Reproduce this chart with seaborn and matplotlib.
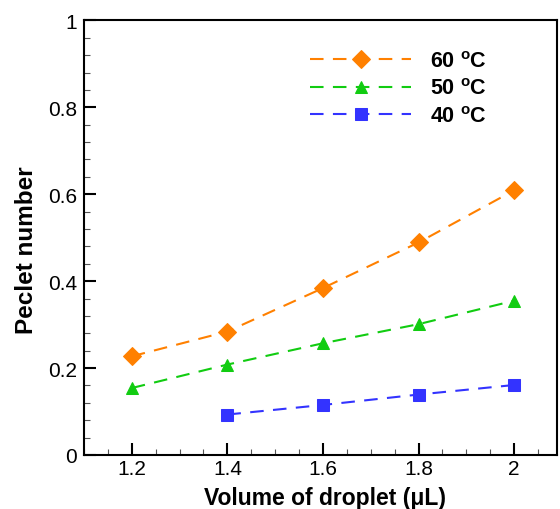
import pandas as pd
import seaborn as sns
import matplotlib.pyplot as plt
from matplotlib.ticker import MultipleLocator, FuncFormatter

volume = [1.2, 1.4, 1.6, 1.8, 2.0]
pe_60 = [0.227, 0.284, 0.384, 0.489, 0.609]
pe_50 = [0.154, 0.208, 0.257, 0.301, 0.355]
pe_40 = [None, 0.093, 0.115, 0.139, 0.161]
labels = ["60 $^\\mathbf{o}$C", "50 $^\\mathbf{o}$C", "40 $^\\mathbf{o}$C"]

sns.set_style("ticks")
plt.rcParams["font.family"] = ["Liberation Sans", "DejaVu Sans"]
plt.rcParams["mathtext.fontset"] = "custom"
plt.rcParams["mathtext.rm"] = "Liberation Sans"
plt.rcParams["mathtext.bf"] = "Liberation Sans:bold"
plt.rcParams["xtick.direction"] = "in"
plt.rcParams["ytick.direction"] = "in"
plt.rcParams["text.color"] = "black"
plt.rcParams["axes.labelcolor"] = "black"
plt.rcParams["xtick.labelcolor"] = "black"
plt.rcParams["ytick.labelcolor"] = "black"

colors = ["#ff8000", "#11cc11", "#3333ff"]
markers = ["D", "^", "s"]
msizes = [9.5, 8.5, 8.5]

fig = plt.figure(figsize=(5.6, 5.1), dpi=100)
ax = fig.add_axes([0.15, 0.106, 0.845, 0.852])

for vals, lab, c, m, ms in zip([pe_60, pe_50, pe_40], labels, colors, markers, msizes):
    df = pd.DataFrame({"volume": volume, "pe": vals}).dropna()
    sns.lineplot(data=df, x="volume", y="pe", ax=ax, color=c, marker=m,
                 markersize=ms, markeredgecolor=c, linewidth=1.5, label=lab)
    ax.lines[-1].set_linestyle((0, (6.5, 4.5)))

ax.set_xlim(1.1, 2.09)
ax.set_ylim(0, 1)
ax.xaxis.set_major_locator(MultipleLocator(0.2))
ax.xaxis.set_minor_locator(MultipleLocator(0.05))
ax.yaxis.set_major_locator(MultipleLocator(0.2))
ax.yaxis.set_minor_locator(MultipleLocator(0.04))
fmt = FuncFormatter(lambda v, p: f"{v:g}")
ax.xaxis.set_major_formatter(fmt)
ax.yaxis.set_major_formatter(fmt)

for s in ax.spines.values():
    s.set_linewidth(1.5)
    s.set_color("black")
    s.set_visible(True)
ax.tick_params(which="major", direction="in", length=8.5, width=1.5,
               labelsize=15, color="black", labelcolor="black")
ax.tick_params(which="minor", direction="in", length=4.3, width=0.8, color="#555555")
ax.tick_params(axis="x", which="major", pad=3)
ax.tick_params(axis="y", which="major", pad=5)

ax.set_xlabel("Volume of droplet (μL)", fontsize=16.5, fontweight="bold")
ax.set_ylabel("Peclet number", fontsize=17.5, fontweight="bold")
ax.xaxis.set_label_coords(0.51, -0.072)
ax.yaxis.set_label_coords(-0.097, 0.474)

leg = ax.legend(loc="upper left", bbox_to_anchor=(0.478, 0.93), frameon=False,
                handlelength=4.7, handletextpad=0.85, numpoints=1,
                labelspacing=0.3, borderaxespad=0, borderpad=0,
                prop={"size": 15.5, "weight": "bold"})

fig.savefig("out.png", dpi=100)
